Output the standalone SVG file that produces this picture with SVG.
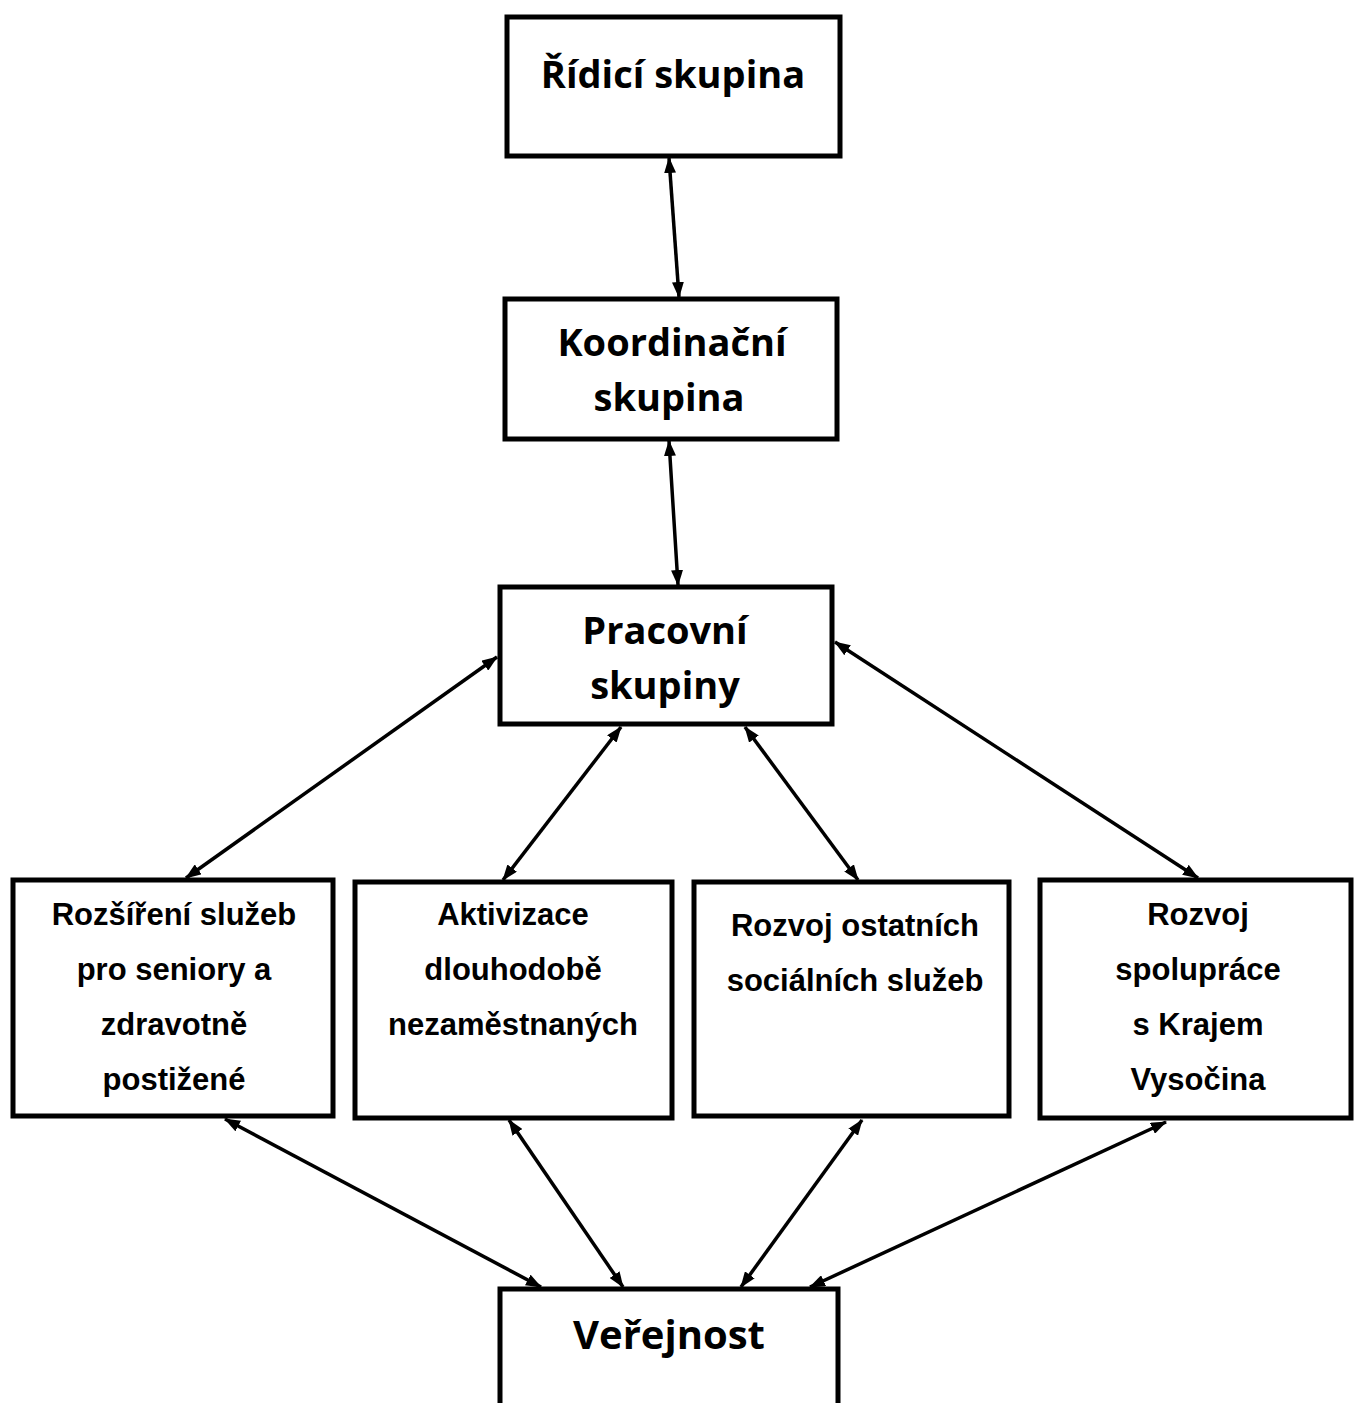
<svg xmlns="http://www.w3.org/2000/svg" width="1354" height="1403" viewBox="0 0 1354 1403">
<style>
.box{fill:#fff;stroke:#000;stroke-width:5}
.big{font-family:"Open Sans","Noto Sans",sans-serif;font-weight:bold;font-size:38px;text-anchor:middle;fill:#000}
.sm{font-family:"Liberation Sans",Arial,sans-serif;font-weight:bold;font-size:31px;text-anchor:middle;fill:#000}
.con line{stroke:#000;stroke-width:3.5;marker-start:url(#ah);marker-end:url(#ah)}
</style>
<defs>
<marker id="ah" markerUnits="userSpaceOnUse" viewBox="0 0 16 12" markerWidth="16" markerHeight="12" refX="15" refY="6" orient="auto-start-reverse">
<path d="M0,0 L16,6 L0,12 z" fill="#000"/>
</marker>
</defs>
<rect width="1354" height="1403" fill="#fff"/>
<g id="ridici">
<rect class="box" x="507" y="17" width="333" height="139"/>
<text class="big" x="673" y="88">Řídicí skupina</text>
</g>
<g id="koordinacni">
<rect class="box" x="505" y="299" width="332" height="140"/>
<text class="big" x="672" y="356">Koordinační</text>
<text class="big" x="669" y="411">skupina</text>
</g>
<g id="pracovni">
<rect class="box" x="500" y="587" width="332" height="137"/>
<text class="big" x="665" y="644">Pracovní</text>
<text class="big" x="665" y="699">skupiny</text>
</g>
<g id="rozsireni">
<rect class="box" x="13" y="880" width="320" height="236"/>
<text class="sm" x="174" y="925">Rozšíření služeb</text>
<text class="sm" x="174" y="980">pro seniory a</text>
<text class="sm" x="174" y="1035">zdravotně</text>
<text class="sm" x="174" y="1090">postižené</text>
</g>
<g id="aktivizace">
<rect class="box" x="355" y="882" width="317" height="236"/>
<text class="sm" x="513" y="925">Aktivizace</text>
<text class="sm" x="513" y="980">dlouhodobě</text>
<text class="sm" x="513" y="1035">nezaměstnaných</text>
</g>
<g id="ostatni">
<rect class="box" x="694" y="882" width="315" height="234"/>
<text class="sm" x="855" y="936">Rozvoj ostatních</text>
<text class="sm" x="855" y="991">sociálních služeb</text>
</g>
<g id="kraj">
<rect class="box" x="1040" y="880" width="311" height="238"/>
<text class="sm" x="1198" y="925">Rozvoj</text>
<text class="sm" x="1198" y="980">spolupráce</text>
<text class="sm" x="1198" y="1035">s Krajem</text>
<text class="sm" x="1198" y="1090">Vysočina</text>
</g>
<g id="verejnost">
<rect class="box" x="500" y="1289" width="338" height="130"/>
<text class="big" x="669" y="1349" style="font-size:40px">Veřejnost</text>
</g>
<g class="con" id="connectors">
<line x1="669" y1="158" x2="679" y2="297"/>
<line x1="669" y1="441" x2="678" y2="585"/>
<line x1="497" y1="657" x2="186" y2="878"/>
<line x1="621" y1="727" x2="503" y2="880"/>
<line x1="745" y1="727" x2="858" y2="880"/>
<line x1="835" y1="642" x2="1198" y2="878"/>
<line x1="225" y1="1119" x2="541" y2="1287"/>
<line x1="509" y1="1120" x2="623" y2="1287"/>
<line x1="862" y1="1120" x2="741" y2="1287"/>
<line x1="1166" y1="1122" x2="810" y2="1287"/>
</g>
</svg>
